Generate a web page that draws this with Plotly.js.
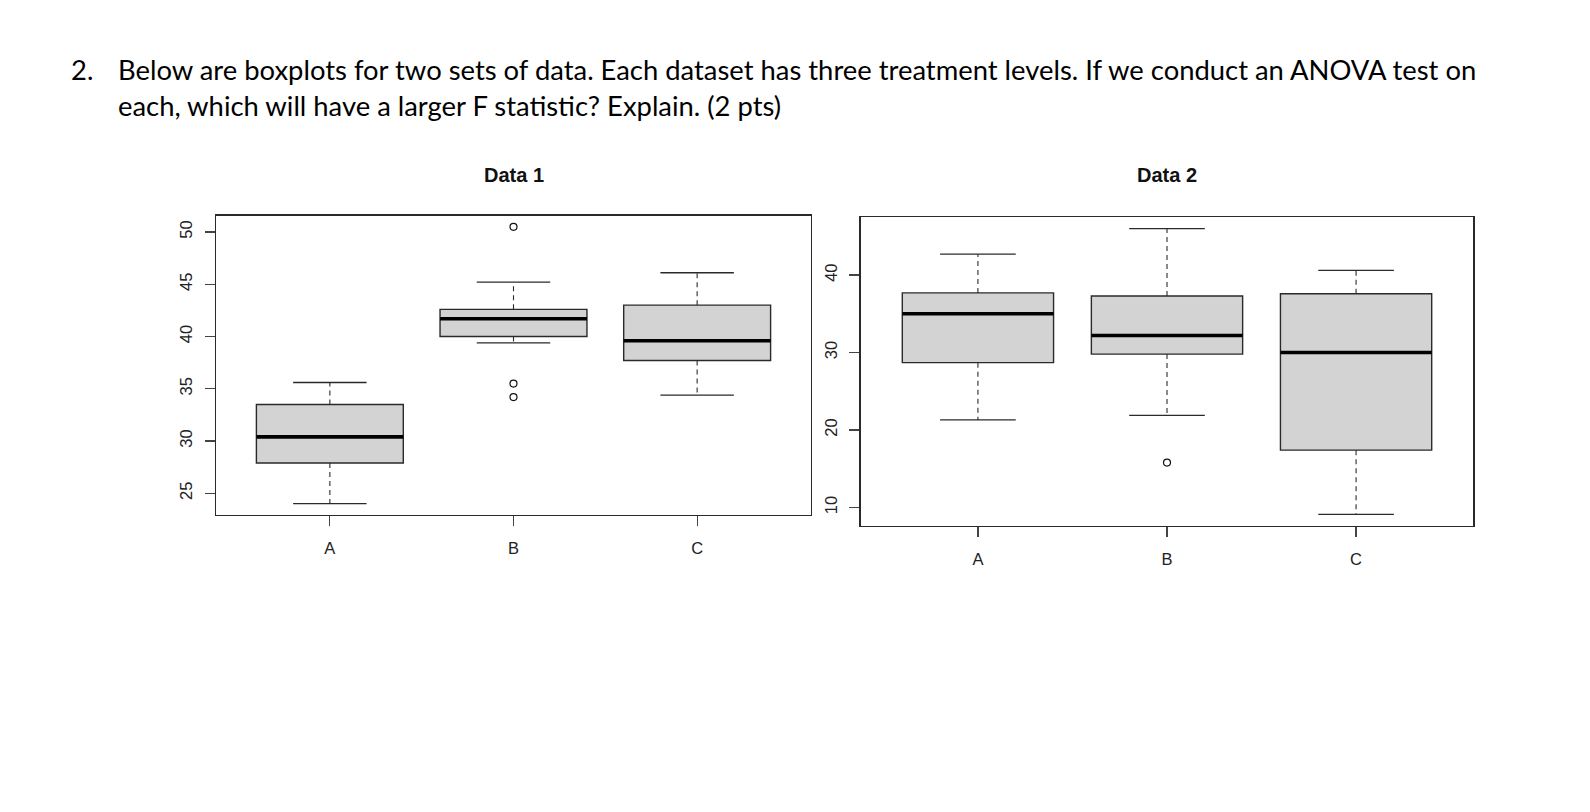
<!DOCTYPE html>
<html>
<head>
<meta charset="utf-8">
<script src="https://cdn.plot.ly/plotly-3.0.1.min.js"></script>
<style>
  html, body { margin: 0; padding: 0; background: #fff; }
  #chart { width: 1590px; height: 812px; }
</style>
</head>
<body>
<div id="chart"></div>
<script>
// ---- data ----
const categories = ['A', 'B', 'C'];

// Data 1
const d1_lower  = [24.0, 39.4, 34.4];
const d1_q1     = [27.9, 40.0, 37.7];
const d1_median = [30.4, 41.7, 39.6];
const d1_q3     = [33.5, 42.6, 43.0];
const d1_upper  = [35.6, 45.2, 46.1];
const d1_outlier_group = [1, 1, 1];
const d1_outlier_value = [50.5, 35.5, 34.2];

// Data 2
const d2_lower  = [21.3, 21.9, 9.1];
const d2_q1     = [28.7, 29.8, 17.4];
const d2_median = [35.0, 32.2, 30.0];
const d2_q3     = [37.7, 37.3, 37.6];
const d2_upper  = [42.7, 46.0, 40.6];
const d2_outlier_group = [1];
const d2_outlier_value = [15.8];

const titles = ['Data 1', 'Data 2'];

// ---- styling ----
const BOXW = 0.8, CAPW = 0.4;
const edge = '#2a2a2a';

function segs(xs, halfw, y0s, y1s) {
  const x = [], y = [];
  xs.forEach((c, i) => {
    if (halfw === 0) { x.push(c, c, null); y.push(y0s[i], y1s[i], null); }
    else { x.push(c - halfw, c + halfw, null); y.push(y0s[i], y0s[i], null); }
  });
  return {x, y};
}

function panelTraces(ax, ay, lower, q1, med, q3, upper, og, ov) {
  const idx = categories.map((_, i) => i);
  const t = [];
  t.push({
    type: 'box', xaxis: ax, yaxis: ay, x: idx,
    q1: q1, median: med, q3: q3, lowerfence: q1, upperfence: q3,
    width: BOXW, whiskerwidth: 0, boxpoints: false,
    fillcolor: '#d3d3d3', line: {color: edge, width: 1.4},
    hoverinfo: 'skip', showlegend: false
  });
  const wu = segs(idx, 0, q3, upper), wl = segs(idx, 0, q1, lower);
  t.push({type: 'scatter', mode: 'lines', xaxis: ax, yaxis: ay,
    x: wu.x.concat(wl.x), y: wu.y.concat(wl.y), connectgaps: false,
    line: {color: edge, width: 1.1, dash: '5px,4px'}, hoverinfo: 'skip', showlegend: false});
  const cu = segs(idx, CAPW / 2, upper), cl = segs(idx, CAPW / 2, lower);
  t.push({type: 'scatter', mode: 'lines', xaxis: ax, yaxis: ay,
    x: cu.x.concat(cl.x), y: cu.y.concat(cl.y),
    line: {color: edge, width: 1.3}, hoverinfo: 'skip', showlegend: false});
  const m = segs(idx, BOXW / 2, med);
  t.push({type: 'scatter', mode: 'lines', xaxis: ax, yaxis: ay,
    x: m.x, y: m.y, line: {color: '#000', width: 3.6}, hoverinfo: 'skip', showlegend: false});
  t.push({type: 'scatter', mode: 'markers', xaxis: ax, yaxis: ay,
    x: og, y: ov, marker: {symbol: 'circle-open', size: 7, color: '#111', line: {width: 1.2}},
    hoverinfo: 'skip', showlegend: false});
  return t;
}

const data = [].concat(
  panelTraces('x', 'y', d1_lower, d1_q1, d1_median, d1_q3, d1_upper, d1_outlier_group, d1_outlier_value),
  panelTraces('x2', 'y2', d2_lower, d2_q1, d2_median, d2_q3, d2_upper, d2_outlier_group, d2_outlier_value)
);

const tickFont = {family: 'Liberation Sans, Arial, sans-serif', size: 16.5, color: '#222'};
function xax(domain, anchor) {
  return {domain, anchor, range: [-0.62, 2.62], tickvals: [0, 1, 2], ticktext: categories,
    showgrid: false, zeroline: false, showline: true, mirror: true, linecolor: edge, linewidth: 1.3,
    ticks: 'outside', ticklen: 10, tickcolor: '#444', tickwidth: 1.2, tickfont: tickFont,
    ticklabelstandoff: 8, fixedrange: true};
}
function yax(domain, anchor, range, tickvals) {
  return {domain, anchor, range, tickvals, tickangle: -90,
    showgrid: false, zeroline: false, showline: true, mirror: true, linecolor: edge, linewidth: 1.3,
    ticks: 'outside', ticklen: 10, tickcolor: '#444', tickwidth: 1.2, tickfont: tickFont,
    ticklabelstandoff: 6, fixedrange: true};
}

const W = 1590, H = 812;
const qFont = {family: 'Lato, Open Sans, sans-serif', size: 27.4, color: '#000'};
const tFont = {family: 'Liberation Sans, Arial, sans-serif', size: 20, color: '#111'};
const layout = {
  width: W, height: H, margin: {l: 0, r: 0, t: 0, b: 0},
  paper_bgcolor: '#fff', plot_bgcolor: '#fff', showlegend: false,
  xaxis: xax([216 / W, 811 / W], 'y'),
  yaxis: yax([1 - 515 / H, 1 - 215.7 / H], 'x', [22.92, 51.56], [25, 30, 35, 40, 45, 50]),
  xaxis2: xax([860.7 / W, 1473.3 / W], 'y2'),
  yaxis2: yax([1 - 526 / H, 1 - 217.3 / H], 'x2', [7.61, 47.46], [10, 20, 30, 40]),
  annotations: [
    {xref: 'paper', yref: 'paper', x: 513.5 / W, y: 1 - 174.5 / H, xanchor: 'center', yanchor: 'middle',
     text: '<b>' + titles[0] + '</b>', showarrow: false, font: tFont},
    {xref: 'paper', yref: 'paper', x: 1167 / W, y: 1 - 174.5 / H, xanchor: 'center', yanchor: 'middle',
     text: '<b>' + titles[1] + '</b>', showarrow: false, font: tFont},
    {xref: 'paper', yref: 'paper', x: 69 / W, y: 1 - 69 / H, xanchor: 'left', yanchor: 'middle', text: '2.',
     showarrow: false, font: qFont},
    {xref: 'paper', yref: 'paper', x: 116 / W, y: 1 - 69 / H, xanchor: 'left', yanchor: 'middle',
     text: 'Below are boxplots for two sets of data. Each dataset has three treatment levels. If we conduct an ANOVA test on',
     showarrow: false, font: qFont},
    {xref: 'paper', yref: 'paper', x: 116 / W, y: 1 - 105.5 / H, xanchor: 'left', yanchor: 'middle',
     text: 'each, which will have a larger F statistic? Explain. (2 pts)',
     showarrow: false, font: qFont}
  ]
};

Plotly.newPlot('chart', data, layout, {staticPlot: true, displayModeBar: false});
</script>
</body>
</html>
